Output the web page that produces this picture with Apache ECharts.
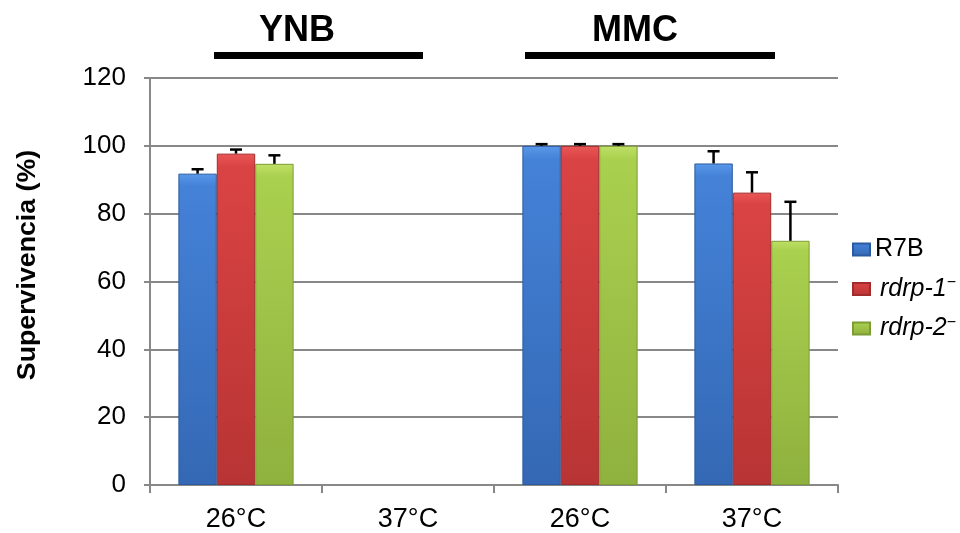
<!DOCTYPE html>
<html><head><meta charset="utf-8">
<script src="https://cdn.jsdelivr.net/npm/echarts@6/dist/echarts.min.js"></script>
<style>html,body{margin:0;padding:0;background:#fff}#c{width:960px;height:533px}</style>
</head><body><div id="c"></div>
<script>
var categories = ['26°C', '37°C', '26°C', '37°C'];
var seriesNames = ['R7B', 'rdrp-1-', 'rdrp-2-'];
var r7b   = [91.8, null, 100, 94.8];
var rdrp1 = [97.7, null, 100, 86.2];
var rdrp2 = [94.7, null, 100, 72.0];
var r7bErr   = [1.3, null, 0.5, 3.6];
var rdrp1Err = [1.2, null, 0.5, 6.0];
var rdrp2Err = [2.5, null, 0.5, 11.5];
var yTicks = [0, 20, 40, 60, 80, 100, 120];

var values = [r7b, rdrp1, rdrp2];
var errs = [r7bErr, rdrp1Err, rdrp2Err];
var colors = [
  ['#5a98ea', '#4482d8', '#3468b4', '#2a5aa0'],
  ['#ea5656', '#da4343', '#b83434', '#a22c2c'],
  ['#bfe066', '#aad04f', '#8fb13e', '#7c9c34']
];
var GAP = 0.33;

function grad(c) {
  return new echarts.graphic.LinearGradient(0, 0, 0, 1, [
    {offset: 0, color: c[0]}, {offset: 0.04, color: c[1]},
    {offset: 1, color: c[2]}
  ]);
}

var chart = echarts.init(document.getElementById('c'));
var series = [];
values.forEach(function (v, i) {
  series.push({
    name: seriesNames[i], type: 'bar', data: v,
    barGap: '0%', barCategoryGap: (GAP * 100) + '%',
    itemStyle: {color: grad(colors[i]), borderColor: colors[i][3], borderWidth: 1}
  });
});
values.forEach(function (v, i) {
  var d = [];
  v.forEach(function (val, k) { if (val != null) d.push([k, val, val + errs[i][k]]); });
  series.push({
    type: 'custom', name: 'err' + i, z: 5,
    data: d,
    encode: {x: 0, y: [1, 2]},
    renderItem: function (params, api) {
      var k = api.value(0);
      var base = api.coord([k, api.value(1)]);
      var top = api.coord([k, api.value(2)]);
      var band = api.size([1, 0])[0];
      var bw = band * (1 - GAP) / 3;
      var x = base[0] + (i - 1) * bw;
      var hw = 6;
      return {type: 'group', children: [
        {type: 'line', shape: {x1: x, y1: base[1], x2: x, y2: top[1]}, style: {stroke: '#000', lineWidth: 2.5}},
        {type: 'line', shape: {x1: x - hw, y1: top[1], x2: x + hw, y2: top[1]}, style: {stroke: '#000', lineWidth: 2.5}}
      ]};
    }
  });
});

chart.setOption({
  animation: false,
  textStyle: {fontFamily: 'Liberation Sans'},
  grid: {left: 150, right: 122, top: 78, bottom: 45},
  legend: {
    data: seriesNames, orient: 'vertical', left: 847, top: 232,
    itemWidth: 17, itemHeight: 12, itemGap: 13, icon: 'rect',
    formatter: function (n) {
      if (n === 'R7B') return '{n|R7B}';
      return '{i|' + n.slice(0, -1) + '}{s|−}';
    },
    textStyle: {
      color: '#000', fontSize: 25,
      rich: {
        n: {fontSize: 25, color: '#000', fontFamily: 'Liberation Sans'},
        i: {fontSize: 25, color: '#000', fontStyle: 'italic', fontFamily: 'Liberation Sans', padding: [0, 0, 0, 5]},
        s: {fontSize: 16, color: '#000', verticalAlign: 'top', padding: [0, 0, 12, 0], fontFamily: 'Liberation Sans'}
      }
    }
  },
  xAxis: {
    type: 'category', data: categories,
    axisLine: {lineStyle: {color: '#888', width: 2}},
    axisTick: {show: true, length: 8, interval: 0, lineStyle: {color: '#888', width: 2}},
    axisLabel: {color: '#000', fontSize: 27, margin: 21, fontFamily: 'Liberation Sans'}
  },
  yAxis: {
    type: 'value', min: yTicks[0], max: yTicks[yTicks.length - 1], interval: 20,
    axisLine: {show: true, lineStyle: {color: '#888', width: 2}},
    axisTick: {show: true, length: 6, lineStyle: {color: '#888', width: 2}},
    splitLine: {lineStyle: {color: '#888', width: 2}},
    axisLabel: {color: '#000', fontSize: 26, margin: 24, fontFamily: 'Liberation Sans'}
  },
  graphic: [
    {type: 'text', x: 28, y: 265, rotation: Math.PI / 2, scaleX: 1.07,
      style: {text: 'Supervivencia (%)', font: 'bold 25px Liberation Sans', fill: '#000', align: 'center', verticalAlign: 'middle'}},
    {type: 'text', x: 297, y: 31,
      style: {text: 'YNB', font: 'bold 36px Liberation Sans', fill: '#000', align: 'center', verticalAlign: 'middle'}},
    {type: 'rect', shape: {x: 214, y: 52, width: 209, height: 7}, style: {fill: '#000'}},
    {type: 'text', x: 635, y: 31,
      style: {text: 'MMC', font: 'bold 36px Liberation Sans', fill: '#000', align: 'center', verticalAlign: 'middle'}},
    {type: 'rect', shape: {x: 525, y: 52, width: 250, height: 7}, style: {fill: '#000'}}
  ],
  series: series
});
</script></body></html>
